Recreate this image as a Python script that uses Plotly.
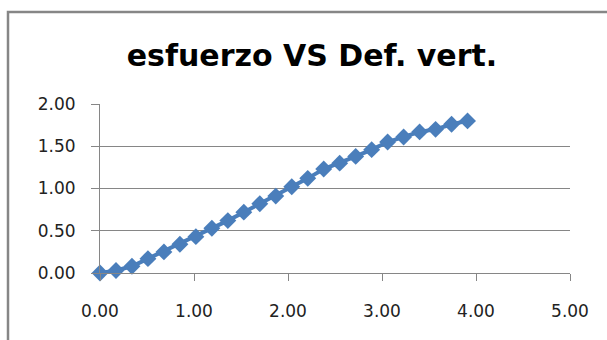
import plotly.graph_objects as go

def_vert = [0.00, 0.17, 0.34, 0.51, 0.68, 0.85, 1.02, 1.19, 1.36, 1.53, 1.70, 1.87,
            2.04, 2.21, 2.38, 2.55, 2.72, 2.89, 3.06, 3.23, 3.40, 3.57, 3.74, 3.91]
esfuerzo = [0.00, 0.03, 0.08, 0.17, 0.25, 0.34, 0.43, 0.53, 0.62, 0.72, 0.82, 0.91,
            1.02, 1.12, 1.23, 1.30, 1.38, 1.46, 1.55, 1.61, 1.67, 1.70, 1.76, 1.80]
x_ticks = [0, 1, 2, 3, 4, 5]
y_ticks = [0, 0.5, 1.0, 1.5, 2.0]
title_text = "esfuerzo VS Def. vert."

blue = "#4A7EBB"
grey = "#868686"

fig = go.Figure()
fig.add_trace(go.Scatter(
    x=def_vert, y=esfuerzo, mode="lines+markers",
    line=dict(color=blue, width=4),
    marker=dict(symbol="diamond", size=13, color=blue),
    showlegend=False, cliponaxis=False,
))

W, H = 607, 340
L, R, T, B = 100, 37, 104, 67
pw, ph = W - L - R, H - T - B

fig.update_layout(
    width=W, height=H,
    margin=dict(l=L, r=R, t=T, b=B, pad=0, autoexpand=False),
    paper_bgcolor="white", plot_bgcolor="white",
    title=dict(text="<b>" + title_text + "</b>", x=312 / W, xanchor="center",
               y=1 - 55 / H, yanchor="middle", yref="container", xref="container",
               font=dict(family="DejaVu Sans", size=30, color="black")),
    font=dict(family="DejaVu Sans", size=17, color="#222222"),
    xaxis=dict(range=[0, 5], tickvals=x_ticks, tickformat=".2f",
               showgrid=False, zeroline=False, showline=True, linecolor=grey, linewidth=1,
               ticks="outside", ticklen=7, tickcolor=grey, tickwidth=1,
               ticklabelstandoff=16,
               automargin=False, fixedrange=True),
    yaxis=dict(range=[0, 2], tickvals=y_ticks, tickformat=".2f",
               showgrid=True, gridcolor=grey, gridwidth=1, zeroline=False,
               showline=True, linecolor=grey, linewidth=1,
               ticks="outside", ticklen=8, tickcolor=grey, tickwidth=1,
               ticklabelstandoff=12,
               automargin=False, fixedrange=True),
)

# chart-area border (partially visible in the reference)
x0 = (8 - L) / pw
x1 = (W + 20 - L) / pw
y1 = (H - B - 12) / ph
y0 = -(B + 20) / ph
fig.add_shape(type="rect", xref="paper", yref="paper", x0=x0, x1=x1, y0=y0, y1=y1,
              line=dict(color=grey, width=2.5), fillcolor="rgba(0,0,0,0)", layer="below")

fig.write_html("out.html", config={"displayModeBar": False},
               post_script="document.body.style.margin='0';document.body.style.overflow='hidden';")
